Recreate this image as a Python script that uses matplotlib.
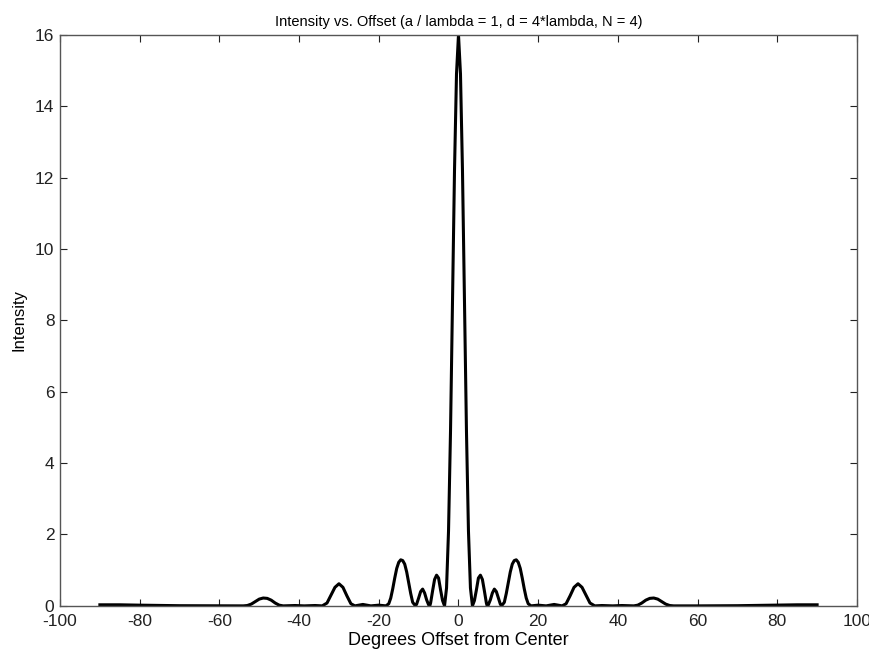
import matplotlib
matplotlib.use("Agg")
import matplotlib.pyplot as plt

# degrees offset from center
offset = [-90, -85, -80, -70, -60, -54, -53, -52, -51, -50, -49, -48, -47, -46, -45, -44,
          -41, -38.7, -36, -34.2, -33, -32, -31, -30, -29, -28, -27, -26, -24, -22, -20,
          -18.2, -17.5, -17, -16.5, -16, -15.5, -15, -14.5, -14, -13.5, -13, -12.5, -12, -11.5, -10.8,
          -10.5, -10, -9.5, -9, -8.5, -8, -7.5, -7.2,
          -7, -6.5, -6, -5.5, -5, -4.5,
          -4, -3.5, -3, -2.5, -2, -1.5, -1, -0.5, 0, 0.5, 1, 1.5, 2, 2.5, 3, 3.5, 4,
          4.5, 5, 5.5, 6, 6.5, 7,
          7.2, 7.5, 8, 8.5, 9, 9.5, 10, 10.5,
          10.8, 11.5, 12, 12.5, 13, 13.5, 14, 14.5, 15, 15.5, 16, 16.5, 17, 17.5, 18.2,
          20, 22, 24, 26, 27, 28, 29, 30, 31, 32, 33, 34.2, 36, 38.7, 41,
          44, 45, 46, 47, 48, 49, 50, 51, 52, 53, 54, 60, 70, 80, 85, 90]

intensity = [0.03, 0.03, 0.02, 0.005, 0.0, 0.0, 0.01, 0.05, 0.12, 0.19, 0.22, 0.21, 0.16, 0.08, 0.02, 0.0,
             0.01, 0.0, 0.01, 0.0, 0.08, 0.3, 0.52, 0.62, 0.52, 0.28, 0.06, 0.0, 0.04, 0.0, 0.02,
             0.0, 0.06, 0.22, 0.48, 0.78, 1.05, 1.22, 1.29, 1.27, 1.17, 0.95, 0.65, 0.35, 0.1, 0.0,
             0.05, 0.22, 0.4, 0.47, 0.36, 0.17, 0.03, 0.0,
             0.08, 0.42, 0.74, 0.86, 0.78, 0.45,
             0.15, 0.0, 0.5, 2.1, 4.9, 8.6, 12.2, 14.9, 16.0, 14.9, 12.2, 8.6, 4.9, 2.1, 0.5, 0.0, 0.15,
             0.45, 0.78, 0.86, 0.74, 0.42, 0.08,
             0.0, 0.03, 0.17, 0.36, 0.47, 0.4, 0.22, 0.05,
             0.0, 0.1, 0.35, 0.65, 0.95, 1.17, 1.27, 1.29, 1.22, 1.05, 0.78, 0.48, 0.22, 0.06, 0.0,
             0.02, 0.0, 0.04, 0.0, 0.06, 0.28, 0.52, 0.62, 0.52, 0.3, 0.08, 0.0, 0.01, 0.0, 0.01,
             0.0, 0.02, 0.08, 0.16, 0.21, 0.22, 0.19, 0.12, 0.05, 0.01, 0.0, 0.0, 0.005, 0.02, 0.03, 0.03]

xticks = list(range(-100, 101, 20))
yticks = list(range(0, 17, 2))

plt.rcParams['font.family'] = ['Liberation Sans', 'DejaVu Sans']
plt.rcParams['axes.unicode_minus'] = False

fig = plt.figure(figsize=(8.7, 6.55), dpi=100)
ax = fig.add_axes([0.069, 0.075, 0.916, 0.872])
ax.plot(offset, intensity, color='black', linewidth=2.2)

ax.set_xlim(-100, 100)
ax.set_ylim(0, 16)
ax.set_xticks(xticks)
ax.set_yticks(yticks)
ax.tick_params(direction='in', top=True, right=True, length=5, width=0.8,
               labelsize=12.5, colors='#222222')
ax.tick_params(axis='x', pad=6)
ax.tick_params(axis='y', pad=4)
for s in ax.spines.values():
    s.set_color('#555555')
    s.set_linewidth(1.0)

ax.set_title('Intensity vs. Offset (a / lambda = 1, d = 4*lambda, N = 4)',
             fontsize=10.5, pad=6)
ax.set_xlabel('Degrees Offset from Center', fontsize=13, labelpad=2)
ax.set_ylabel('Intensity', fontsize=12, labelpad=6)

fig.savefig('out.png', dpi=100)
